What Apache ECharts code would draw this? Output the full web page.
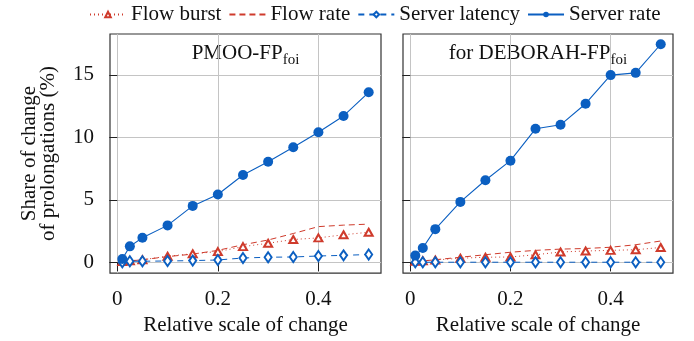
<!DOCTYPE html>
<html><head><meta charset="utf-8">
<script src="https://cdn.jsdelivr.net/npm/echarts@6/dist/echarts.min.js"></script>
<style>html,body{margin:0;padding:0;background:#fff}#c{width:694px;height:341px}</style>
</head><body><div id="c"></div>
<script>
const scales = [0.01, 0.025, 0.05, 0.1, 0.15, 0.2, 0.25, 0.3, 0.35, 0.4, 0.45, 0.5];
const seriesNames = ['Flow burst', 'Flow rate', 'Server latency', 'Server rate'];
const panelTitles = ['PMOO-FP', 'for DEBORAH-FP'];
const panelSub = 'foi';
const xTicks = [0, 0.2, 0.4];
const yTicks = [0, 5, 10, 15];
// PMOO-FP_foi
const pmooBurst   = [0.05, 0.12, 0.2, 0.48, 0.68, 0.85, 1.25, 1.52, 1.82, 1.95, 2.2, 2.4];
const pmooRate    = [0.05, 0.1, 0.2, 0.45, 0.65, 0.95, 1.4, 1.78, 2.3, 2.85, 2.97, 3.05];
const pmooLatency = [0.0, 0.08, 0.08, 0.1, 0.13, 0.18, 0.34, 0.4, 0.42, 0.5, 0.55, 0.62];
const pmooServer  = [0.26, 1.27, 1.96, 2.95, 4.51, 5.42, 6.98, 8.05, 9.21, 10.41, 11.71, 13.6];
// for DEBORAH-FP_foi
const debBurst   = [0.08, 0.12, 0.18, 0.32, 0.4, 0.42, 0.6, 0.82, 0.9, 0.95, 1.0, 1.18];
const debRate    = [0.05, 0.1, 0.2, 0.4, 0.6, 0.8, 0.95, 1.05, 1.1, 1.2, 1.4, 1.7];
const debLatency = [0, 0, 0, 0, 0, 0, 0, 0, 0, 0, 0, 0];
const debServer  = [0.53, 1.14, 2.65, 4.83, 6.56, 8.13, 10.68, 11.0, 12.69, 14.98, 15.16, 17.45];

const RED = '#cf3b2c', BLUE = '#0b5fc1';
const FONT = 'Liberation Serif';
const pair = arr => arr.map((v, i) => [scales[i], v]);

function mk(name, data, gi) {
  const base = { name, type: 'line', data: pair(data), xAxisIndex: gi, yAxisIndex: gi, animation: false };
  if (name === 'Flow burst') return Object.assign(base, {
    symbol: 'emptyTriangle', symbolSize: [8, 7], z: 3,
    lineStyle: { color: RED, width: 1, type: [1, 3] }, itemStyle: { color: RED, borderWidth: 1.2 } });
  if (name === 'Flow rate') return Object.assign(base, {
    symbol: 'none', showSymbol: false, z: 2,
    lineStyle: { color: RED, width: 1, type: [6, 4] }, itemStyle: { color: RED } });
  if (name === 'Server latency') return Object.assign(base, {
    symbol: 'emptyDiamond', symbolSize: [7, 10], z: 4,
    lineStyle: { color: BLUE, width: 1, type: [6, 5] }, itemStyle: { color: BLUE, borderWidth: 1.2 } });
  return Object.assign(base, {
    symbol: 'circle', symbolSize: 10, z: 5,
    lineStyle: { color: BLUE, width: 1.1, type: 'solid' }, itemStyle: { color: BLUE } });
}

const grids = [
  { left: 110, top: 34, width: 271, height: 240 },
  { left: 403, top: 34, width: 270, height: 240 }
];
const xAxes = grids.map((g, i) => ({
  type: 'value', gridIndex: i, min: -0.0145, max: 0.5245,
  axisLine: { show: false },
  axisTick: { show: true, length: 9, inside: false, customValues: xTicks, lineStyle: { color: '#222', width: 1 } },
  axisLabel: { customValues: xTicks, fontFamily: FONT, fontSize: 21, color: '#111', margin: 16,
    formatter: v => (v === 0 ? '0' : String(v)) },
  splitLine: { show: true, lineStyle: { color: '#c4c4c4', width: 1 } },
  name: 'Relative scale of change', nameLocation: 'middle', nameGap: 37,
  nameTextStyle: { fontFamily: FONT, fontSize: 21, color: '#111' }
}));
const yAxes = grids.map((g, i) => ({
  type: 'value', gridIndex: i, min: -0.87, max: 18.27,
  axisLine: { show: false },
  axisTick: { show: true, length: 8, inside: false, customValues: yTicks, lineStyle: { color: '#222', width: 1 } },
  axisLabel: { show: i === 0, customValues: yTicks, fontFamily: FONT, fontSize: 21, color: '#111', margin: 16 },
  splitLine: { show: true, lineStyle: { color: '#c4c4c4', width: 1 } },
  name: i === 0 ? 'Share of change\nof prolongations (%)' : '', nameLocation: 'middle', nameGap: 52,
  nameTextStyle: { fontFamily: FONT, fontSize: 21, color: '#111', lineHeight: 19 }
}));

const series = [];
[[pmooBurst, pmooRate, pmooLatency, pmooServer], [debBurst, debRate, debLatency, debServer]].forEach((set, gi) => {
  set.forEach((d, k) => series.push(mk(seriesNames[k], d, gi)));
});

const chart = echarts.init(document.getElementById('c'), null, { renderer: 'canvas' });
chart.setOption({
  animation: false,
  backgroundColor: '#fff',
  grid: grids.map(g => Object.assign({ show: true, borderColor: '#333', borderWidth: 1.2, backgroundColor: 'transparent' }, g)),
  xAxis: xAxes,
  yAxis: yAxes,
  legend: {
    data: seriesNames.map(n => (n === 'Flow rate'
      ? { name: n, itemStyle: { color: 'rgba(0,0,0,0)', borderColor: 'rgba(0,0,0,0)', opacity: 0 } }
      : { name: n })),
    left: 84, top: -1, itemGap: 7, itemWidth: 36, itemHeight: 7,
    textStyle: { fontFamily: FONT, fontSize: 21, color: '#111' }
  },
  graphic: panelTitles.map((t, i) => ({
    type: 'text',
    x: grids[i].left + grids[i].width / 2, y: 52,
    style: {
      text: '{a|' + t + '}{b|' + panelSub + '}', align: 'center', verticalAlign: 'middle',
      rich: {
        a: { fontFamily: FONT, fontSize: 21, fill: '#111', verticalAlign: 'bottom', lineHeight: 24 },
        b: { fontFamily: FONT, fontSize: 15, fill: '#111', verticalAlign: 'bottom', lineHeight: 18, padding: [0, 0, -4, 0] }
      }
    }
  })),
  series
});
</script></body></html>
